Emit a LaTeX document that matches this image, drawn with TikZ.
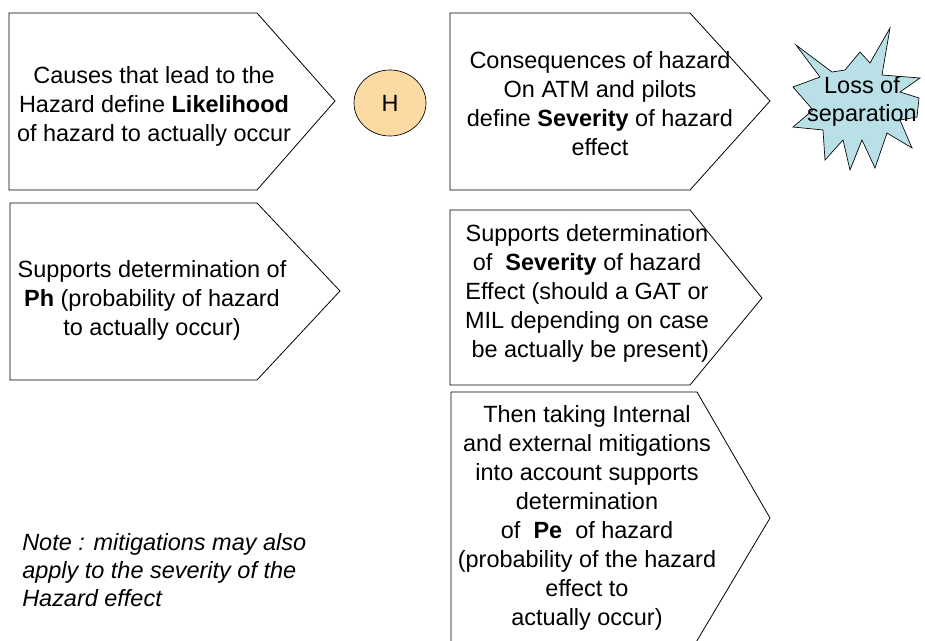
\documentclass[tikz,border=0pt]{standalone}
\usepackage{fontspec}
\setmainfont{Liberation Sans}
\usetikzlibrary{shapes.geometric}
\definecolor{hazfill}{RGB}{251,219,163}
\definecolor{burstfill}{RGB}{185,224,230}
\begin{document}
\begin{tikzpicture}[x=0.75pt,y=-0.75pt,
  arrowbox/.style={draw=black,line width=0.6pt,fill=white},
  boxtext/.style={align=center,inner sep=0pt,font=\fontsize{17.6}{21.75}\selectfont},
  notetext/.style={align=left,inner sep=0pt,anchor=west,font=\fontsize{17.6}{21}\selectfont\itshape},
  hazard/.style={ellipse,draw=black,line width=0.5pt,fill=hazfill,minimum width=54pt,minimum height=49.5pt,inner sep=0pt,font=\fontsize{17.6}{21}\selectfont},
  burst/.style={draw=black,line width=0.5pt,fill=burstfill}]
\useasboundingbox (0,0) rectangle (925,641);
\clip (0,0) rectangle (925,641);

% arrow-shaped boxes
\draw[arrowbox] (9,13) -- (257,13) -- (335,101) -- (257,190) -- (9,190) -- cycle;
\draw[arrowbox] (450,13) -- (690,13) -- (770,101) -- (690,190) -- (450,190) -- cycle;
\draw[arrowbox] (10,203) -- (257,203) -- (340,291) -- (257,380) -- (10,380) -- cycle;
\draw[arrowbox] (450,210) -- (690,210) -- (762,298) -- (690,385) -- (450,385) -- cycle;
\draw[arrowbox] (451,392) -- (697,392) -- (770,518) -- (695,644) -- (451,644) -- cycle;

% the hazard
\node[hazard] (haz) at (390,103) {H};

% loss of separation burst
\draw[burst] (796,45) -- (832,72) -- (845,70) -- (860,52) -- (870,63) -- (890,28)
  -- (882,75) -- (920,78) -- (900,92) -- (919,98) -- (917,117) -- (900,120)
  -- (912,148) -- (887,133) -- (875,168) -- (862,140) -- (850,170) -- (843,140)
  -- (825,160) -- (823,130) -- (793,127) -- (813,110) -- (793,87) -- (820,77) -- cycle;
\node[boxtext,font=\fontsize{17.6}{21}\selectfont] (loss) at (862,101) {Loss of\\separation};

% texts
\node[boxtext] (causes) at (154,106) {Causes that lead to the\\Hazard define \textbf{Likelihood}\\of hazard to actually occur};
\node[boxtext] (conseq) at (600,104) {Consequences of hazard\\On ATM and pilots\\define \textbf{Severity} of hazard\\effect};
\node[boxtext] (ph) at (152,300) {Supports determination of\\\textbf{Ph} (probability of hazard\\to actually occur)};
\node[boxtext] (sev) at (587,293) {Supports determination\\of\ \ \textbf{Severity} of hazard\\Effect (should a GAT or\\MIL depending on case\\\ be actually be present)};
\node[boxtext] (pe) at (587,518) {Then taking Internal\\and external mitigations\\into account supports\\determination\\of\ \ \textbf{Pe}\ \ of hazard\\(probability of the hazard\\effect to\\actually occur)};
\node[notetext] (note) at (22,570) {Note : mitigations may also\\apply to the severity of the\\Hazard effect};
\end{tikzpicture}
\end{document}
